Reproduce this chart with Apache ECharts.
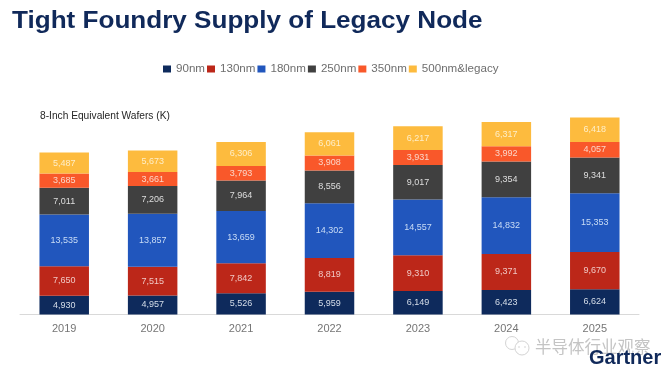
<!DOCTYPE html>
<html><head><meta charset="utf-8">
<style>html,body{margin:0;padding:0;background:#fff}#c{width:662px;height:368px}</style>
<script src="https://cdn.jsdelivr.net/npm/echarts@6/dist/echarts.min.js"></script>
</head><body><div id="c"></div>
<script>
const years = ['2019','2020','2021','2022','2023','2024','2025'];
const nm90 = [4930,4957,5526,5959,6149,6423,6624];
const nm130 = [7650,7515,7842,8819,9310,9371,9670];
const nm180 = [13535,13857,13659,14302,14557,14832,15353];
const nm250 = [7011,7206,7964,8556,9017,9354,9341];
const nm350 = [3685,3661,3793,3908,3931,3992,4057];
const nm500 = [5487,5673,6306,6061,6217,6317,6418];
const font = '"Liberation Sans", Arial, sans-serif';
function s(name,data,color,labelColor){
  return {name,type:'bar',stack:'t',data,barWidth:49.5,
    itemStyle:{color},
    label:{show:true,position:'inside',color:labelColor,fontSize:9,fontFamily:font,
      formatter:p=>p.value.toLocaleString('en-US')}};
}
const chart = echarts.init(document.getElementById('c'),null,{renderer:'canvas'});
chart.setOption({
  animation:false,
  backgroundColor:'#fff',
  legend:{left:158,top:58,itemWidth:8,itemHeight:7,itemGap:2,icon:'rect',
    textStyle:{color:'#6e6e6e',fontSize:11.6,fontFamily:font},
    data:['90nm','130nm','180nm','250nm','350nm','500nm&legacy']},
  grid:{left:20,width:619,top:84.8,height:229.7},
  xAxis:{type:'category',data:years,
    axisLine:{lineStyle:{color:'#d9d9d9',width:1}},axisTick:{show:false},
    axisLabel:{color:'#757575',fontSize:11,fontFamily:font,margin:9}},
  yAxis:{type:'value',min:0,max:60000,show:false,splitLine:{show:false}},
  series:[
    s('90nm',nm90,'#0e2a5c','#d5dde8'),
    s('130nm',nm130,'#bc2719','#f0c8c4'),
    s('180nm',nm180,'#2156bd','#c9dcf5'),
    s('250nm',nm250,'#404040','#dedede'),
    s('350nm',nm350,'#f9582a','#fbd6c8'),
    s('500nm&legacy',nm500,'#fdbb3e','#feeec8')
  ],
  graphic:[
    {type:'text',x:12,y:10,scaleX:1.11,scaleY:1,style:{text:'Tight Foundry Supply of Legacy Node',fill:'#10295a',font:'bold 23.5px '+font}},
    {type:'text',left:40,top:111,style:{text:'8-Inch Equivalent Wafers (K)',fill:'#262626',font:'10.2px '+font}},
    {type:'circle',shape:{cx:512,cy:343,r:6.5},style:{fill:'#fff',stroke:'#d4d4d4',lineWidth:1}},
    {type:'circle',shape:{cx:522,cy:348,r:7},style:{fill:'#fff',stroke:'#d4d4d4',lineWidth:1}},
    {type:'circle',shape:{cx:519,cy:347,r:0.8},style:{fill:'#cfcfcf'}},
    {type:'circle',shape:{cx:525,cy:347,r:0.8},style:{fill:'#cfcfcf'}},
    {type:'text',left:535,top:338,style:{text:'半导体行业观察',fill:'#c4c4c4',font:'16.5px "Noto Sans CJK SC"'}},
    {type:'text',left:589,top:348,style:{text:'Gartner',fill:'#10295a',font:'bold 20px '+font}}
  ]
});
</script></body></html>
